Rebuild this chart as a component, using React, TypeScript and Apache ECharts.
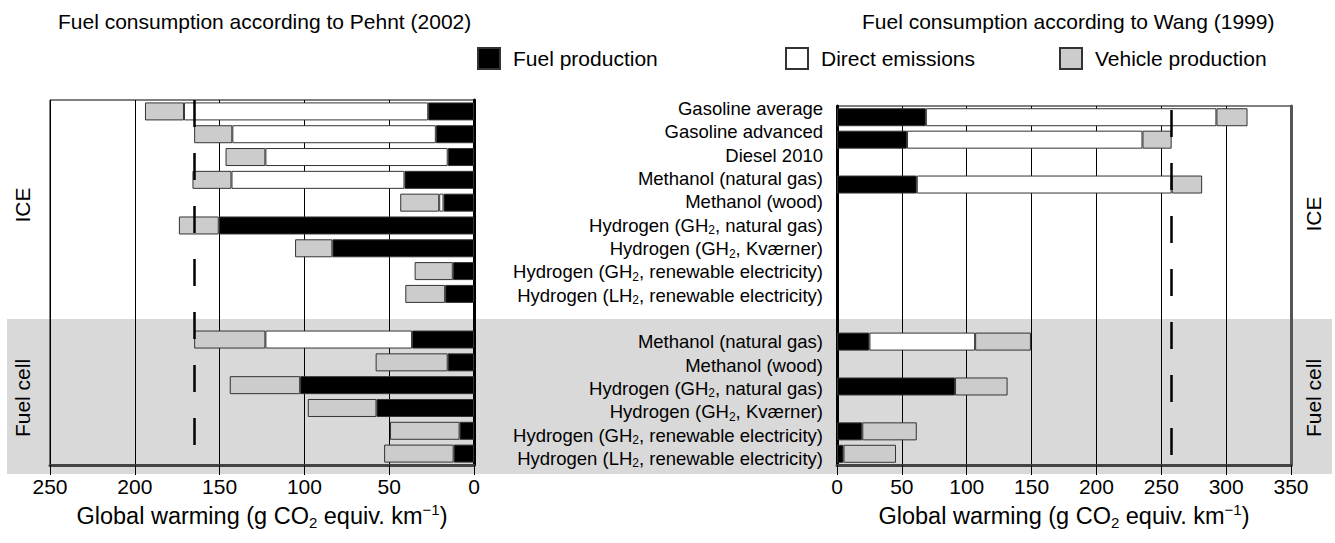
import React, { useEffect, useRef } from 'react';
import * as echarts from 'echarts';

const FONT = '"Liberation Sans", Arial, Helvetica, sans-serif';

// Categories
const iceCategories = [
  'Gasoline average',
  'Gasoline advanced',
  'Diesel 2010',
  'Methanol (natural gas)',
  'Methanol (wood)',
  'Hydrogen (GH2, natural gas)',
  'Hydrogen (GH2, Kværner)',
  'Hydrogen (GH2, renewable electricity)',
  'Hydrogen (LH2, renewable electricity)',
];
const fcCategories = [
  'Methanol (natural gas)',
  'Methanol (wood)',
  'Hydrogen (GH2, natural gas)',
  'Hydrogen (GH2, Kværner)',
  'Hydrogen (GH2, renewable electricity)',
  'Hydrogen (LH2, renewable electricity)',
];

// Pehnt (2002) — g CO2 equiv. per km
const pehntFuelICE = [27, 22.5, 15.5, 41, 18, 150.5, 83.5, 12.5, 17];
const pehntDirectICE = [144, 120, 107.5, 102, 2.5, null, null, null, null];
const pehntVehicleICE = [23, 22.5, 23.5, 23, 23, 23.5, 22, 22.5, 23.5];
const pehntFuelFC = [36.5, 15.5, 102.5, 57.5, 8.5, 12];
const pehntDirectFC = [86.5, null, null, null, null, null];
const pehntVehicleFC = [42, 42.5, 41.5, 40.5, 41, 41];
const pehntReference = 165;

// Wang (1999)
const wangFuelICE = [68.5, 54, null, 61.5, null, null, null, null, null];
const wangDirectICE = [224, 181.5, null, 196.5, null, null, null, null, null];
const wangVehicleICE = [24, 22.5, null, 23.5, null, null, null, null, null];
const wangFuelFC = [25, null, 91, null, 19.5, 5];
const wangDirectFC = [81.5, null, null, null, null, null];
const wangVehicleFC = [43, null, 40.5, null, 42, 40.5];
const wangReference = 258;

const xTicksLeft = { min: 0, max: 250, interval: 50 };
const xTicksRight = { min: 0, max: 350, interval: 50 };

const seriesNames = ['Fuel production', 'Direct emissions', 'Vehicle production'];
const seriesColors = ['#000000', '#ffffff', '#cccccc'];

const categories = [...iceCategories, '', ...fcCategories];
const join = (ice: (number | null)[], fc: (number | null)[]) =>
  [...ice, null, ...fc].map((v) => (v == null ? '-' : v));

const axisNameText = '{t|Global warming (g CO}{s|2}{t| equiv. km}{p|−1}{t|)}';
const axisNameRich = {
  t: { fontSize: 23.5, fontFamily: FONT, color: '#000', lineHeight: 28 },
  s: { fontSize: 15, fontFamily: FONT, color: '#000', lineHeight: 15, verticalAlign: 'bottom' },
  p: { fontSize: 15, fontFamily: FONT, color: '#000', lineHeight: 15, verticalAlign: 'top' },
};

export default function App() {
  const ref = useRef<HTMLDivElement>(null);

  useEffect(() => {
    if (!ref.current) return;
    const chart = echarts.init(ref.current, undefined, { renderer: 'svg' });

    const makeXAxis = (gridIndex: number, ticks: any, inverse: boolean) => ({
      gridIndex,
      type: 'value',
      ...ticks,
      inverse,
      position: 'bottom',
      axisLine: { show: true, onZero: false, lineStyle: { color: '#444', width: 3 } },
      axisTick: { show: true, length: 10, lineStyle: { color: '#000', width: 1 } },
      axisLabel: { fontSize: 21, color: '#000', fontFamily: FONT, margin: 11 },
      splitLine: { show: true, lineStyle: { color: '#000', width: 1 } },
      name: axisNameText,
      nameLocation: 'middle',
      nameGap: 27,
      nameTextStyle: { rich: axisNameRich },
    });

    const makeBars = (
      prefix: string,
      xAxisIndex: number,
      yAxisIndex: number,
      data: any[][],
      refValue: number,
      dashOffset: number
    ) =>
      seriesNames.map((name, i) => ({
        type: 'bar',
        name,
        xAxisIndex,
        yAxisIndex,
        stack: prefix,
        barWidth: 18,
        itemStyle: { color: seriesColors[i], borderColor: '#333', borderWidth: 1 },
        emphasis: { disabled: true },
        data: data[i],
        ...(i === 2
          ? {
              markLine: {
                silent: true,
                symbol: 'none',
                label: { show: false },
                emphasis: { disabled: true },
                lineStyle: { color: '#000', width: 2.5, type: [27, 26], dashOffset },
                data: [{ xAxis: refValue }],
              },
            }
          : {}),
      }));

    const option: any = {
      animation: false,
      textStyle: { fontFamily: FONT },
      title: [
        {
          text: 'Fuel consumption according to Pehnt (2002)',
          left: 58,
          top: 11,
          padding: 0,
          textStyle: { fontSize: 21, fontWeight: 'normal', fontFamily: FONT, color: '#000' },
        },
        {
          text: 'Fuel consumption according to Wang (1999)',
          left: 862,
          top: 11,
          padding: 0,
          textStyle: { fontSize: 21, fontWeight: 'normal', fontFamily: FONT, color: '#000' },
        },
      ],
      legend: seriesNames.map((name, i) => ({
        data: [name],
        left: [477, 785, 1059][i],
        top: 47,
        padding: 0,
        icon: 'rect',
        itemWidth: 22,
        itemHeight: 21,
        selectedMode: false,
        textStyle: { fontSize: 21, fontFamily: FONT, color: '#000', padding: [0, 0, 0, 8] },
      })),
      graphic: [
        {
          type: 'rect',
          z: -10,
          silent: true,
          shape: { x: 7, y: 319, width: 1325, height: 155 },
          style: { fill: '#d9d9d9' },
        },
        ...[
          { t: 'ICE', x: 22, y: 205 },
          { t: 'Fuel cell', x: 22, y: 398 },
          { t: 'ICE', x: 1313, y: 214 },
          { t: 'Fuel cell', x: 1313, y: 398 },
        ].map((g) => ({
          type: 'text',
          x: g.x,
          y: g.y,
          rotation: Math.PI / 2,
          silent: true,
          style: {
            text: g.t,
            fill: '#000',
            font: `21px ${FONT}`,
            textAlign: 'center',
            textVerticalAlign: 'middle',
            align: 'center',
            verticalAlign: 'middle',
          },
        })),
      ],
      grid: [
        { left: 50, top: 100, width: 424, height: 365, show: true, borderColor: '#000', borderWidth: 1, backgroundColor: 'transparent' },
        { left: 837, top: 106, width: 454, height: 359, show: true, borderColor: '#000', borderWidth: 1, backgroundColor: 'transparent' },
        { left: 823, top: 97, width: 2, height: 373 },
      ],
      xAxis: [
        makeXAxis(0, xTicksLeft, true),
        makeXAxis(1, xTicksRight, false),
        { gridIndex: 2, type: 'value', show: false },
      ],
      yAxis: [
        {
          gridIndex: 0,
          type: 'category',
          data: categories,
          inverse: true,
          position: 'right',
          axisLine: { show: true, lineStyle: { color: '#000', width: 3 } },
          axisTick: { show: false },
          axisLabel: { show: false },
          splitLine: { show: false },
        },
        {
          gridIndex: 1,
          type: 'category',
          data: categories,
          inverse: true,
          position: 'left',
          axisLine: { show: true, lineStyle: { color: '#000', width: 3 } },
          axisTick: { show: false },
          axisLabel: { show: false },
          splitLine: { show: false },
        },
        {
          gridIndex: 1,
          type: 'category',
          data: categories,
          inverse: true,
          position: 'right',
          axisLine: { show: true, lineStyle: { color: '#555', width: 3 } },
          axisTick: { show: false },
          axisLabel: { show: false },
          splitLine: { show: false },
        },
        {
          gridIndex: 2,
          type: 'category',
          data: categories,
          inverse: true,
          position: 'left',
          axisLine: { show: false },
          axisTick: { show: false },
          splitLine: { show: false },
          axisLabel: {
            interval: 0,
            margin: 0,
            formatter: (v: string) =>
              v ? '{t|' + v.replace(/(GH|LH)2/, '$1}{s|2}{t|') + '}' : '',
            rich: {
              t: { fontSize: 18.5, fontFamily: FONT, color: '#000', lineHeight: 22 },
              s: { fontSize: 12, fontFamily: FONT, color: '#000', lineHeight: 10, verticalAlign: 'bottom' },
            },
          },
        },
      ],
      series: [
        ...makeBars(
          'pehnt',
          0,
          0,
          [
            join(pehntFuelICE, pehntFuelFC),
            join(pehntDirectICE, pehntDirectFC),
            join(pehntVehicleICE, pehntVehicleFC),
          ],
          pehntReference,
          0
        ),
        ...makeBars(
          'wang',
          1,
          1,
          [
            join(wangFuelICE, wangFuelFC),
            join(wangDirectICE, wangDirectFC),
            join(wangVehicleICE, wangVehicleFC),
          ],
          wangReference,
          49
        ),
      ],
    };

    chart.setOption(option);
    return () => chart.dispose();
  }, []);

  return (
    <div
      ref={ref}
      style={{ position: 'absolute', left: 0, top: 0, width: 1335, height: 543, background: '#fff' }}
    />
  );
}
